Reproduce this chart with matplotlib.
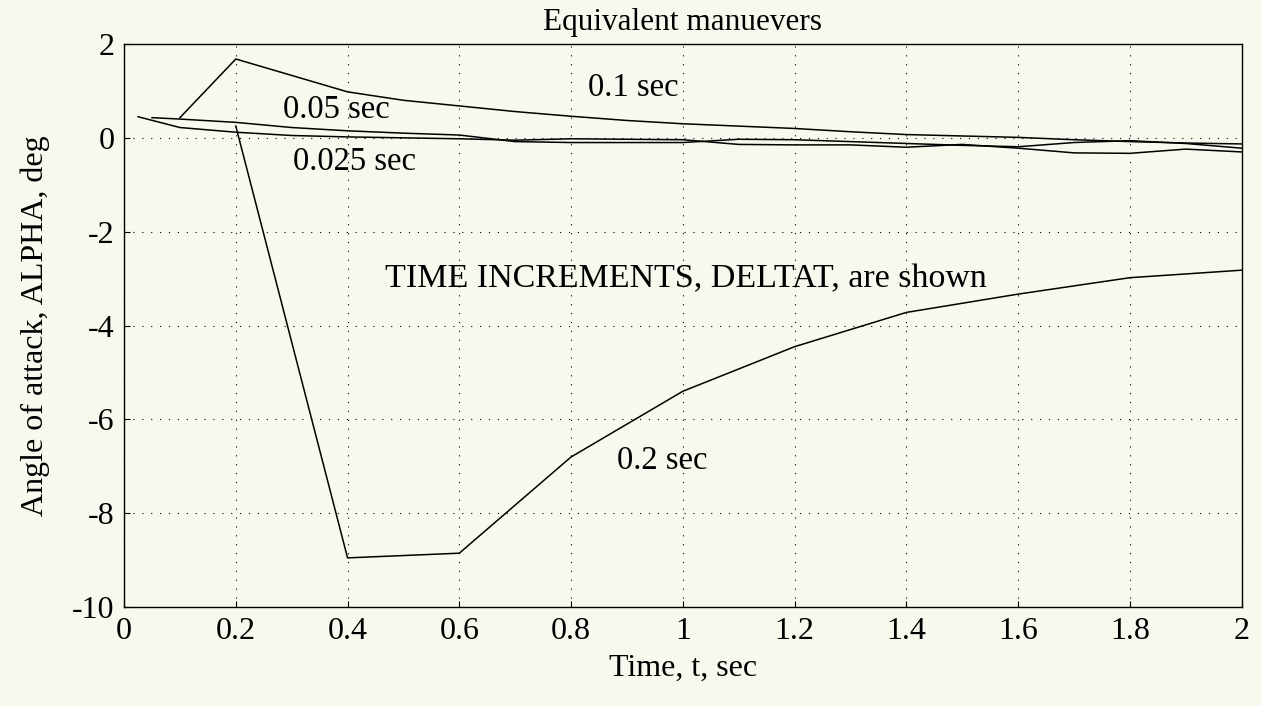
import matplotlib.pyplot as plt
from matplotlib.ticker import FormatStrFormatter

plt.rcParams['font.family'] = ['Liberation Serif', 'DejaVu Serif']
plt.rcParams['axes.unicode_minus'] = False

# angle of attack response for each time increment
t_02 = [0.2, 0.4, 0.6, 0.8, 1.0, 1.2, 1.4, 1.6, 1.8, 2.0]
alpha_02 = [0.25, -8.95, -8.85, -6.8, -5.4, -4.45, -3.72, -3.33, -2.98, -2.82]

t_01 = [0.1, 0.2, 0.3, 0.4, 0.5, 0.6, 0.7, 0.8, 0.9, 1.0,
        1.1, 1.2, 1.3, 1.4, 1.5, 1.6, 1.7, 1.8, 1.9, 2.0]
alpha_01 = [0.43, 1.68, 1.33, 0.98, 0.8, 0.68, 0.56, 0.46, 0.37, 0.3,
            0.25, 0.2, 0.13, 0.07, 0.04, 0.01, -0.04, -0.08, -0.11, -0.13]

t_005 = [0.05, 0.1, 0.2, 0.3, 0.4, 0.5, 0.6, 0.7, 0.8, 0.9, 1.0,
         1.1, 1.2, 1.3, 1.4, 1.5, 1.6, 1.7, 1.8, 1.9, 2.0]
alpha_005 = [0.43, 0.4, 0.33, 0.22, 0.15, 0.1, 0.06, -0.08, -0.1, -0.1, -0.1,
             -0.03, -0.04, -0.08, -0.12, -0.16, -0.19, -0.1, -0.06, -0.12, -0.22]

t_0025 = [0.025, 0.1, 0.2, 0.3, 0.4, 0.5, 0.6, 0.7, 0.8, 0.9, 1.0,
          1.1, 1.2, 1.3, 1.4, 1.5, 1.6, 1.7, 1.8, 1.9, 2.0]
alpha_0025 = [0.45, 0.22, 0.12, 0.05, 0.02, 0.0, -0.02, -0.05, -0.02, -0.03, -0.04,
              -0.14, -0.15, -0.15, -0.2, -0.14, -0.22, -0.32, -0.33, -0.24, -0.3]

xticks = [0, 0.2, 0.4, 0.6, 0.8, 1, 1.2, 1.4, 1.6, 1.8, 2]
yticks = [2, 0, -2, -4, -6, -8, -10]

bg = '#f8f8ee'
fig = plt.figure(figsize=(12.62, 7.06), dpi=100, facecolor=bg)
ax = fig.add_axes([0.0983, 0.14, 0.8855, 0.7977], facecolor=bg)

for t, a in [(t_02, alpha_02), (t_01, alpha_01), (t_005, alpha_005), (t_0025, alpha_0025)]:
    ax.plot(t, a, color='black', lw=1.1)

ax.set_xlim(0, 2)
ax.set_ylim(-10, 2)
ax.set_xticks(xticks)
ax.set_yticks(yticks)
ax.xaxis.set_major_formatter(FormatStrFormatter('%g'))
ax.yaxis.set_major_formatter(FormatStrFormatter('%g'))
ax.grid(True, color='black', linestyle=(0, (1, 7)), linewidth=0.8)
ax.tick_params(direction='in', length=4, width=0.8, labelsize=23, pad=7)
for s in ax.spines.values():
    s.set_linewidth(1.0)

ax.text(0.83, 1.07, '0.1 sec', fontsize=23.5, va='center')
ax.text(0.285, 0.6, '0.05 sec', fontsize=23.5, va='center')
ax.text(0.303, -0.51, '0.025 sec', fontsize=23.5, va='center')
ax.text(0.467, -3.0, 'TIME INCREMENTS, DELTAT, are shown', fontsize=24.5, va='center')
ax.text(0.883, -6.87, '0.2 sec', fontsize=23.5, va='center')

ax.set_title('Equivalent manuevers', fontsize=22.5, pad=10)
ax.set_xlabel('Time, t, sec', fontsize=23, labelpad=6)
ax.set_ylabel('Angle of attack, ALPHA, deg', fontsize=23, labelpad=16)

fig.savefig('out.png', dpi=100, facecolor=bg)
